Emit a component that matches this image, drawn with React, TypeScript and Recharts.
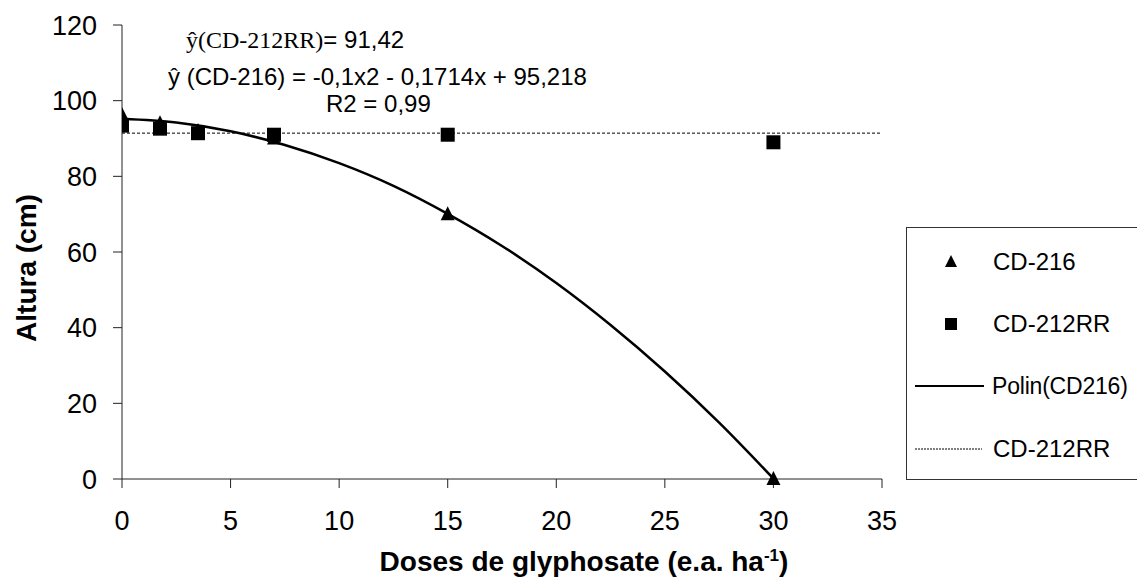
import React from 'react';
import { ComposedChart, Line, Scatter, XAxis, YAxis, Legend } from 'recharts';

// observed points
const doses = [0, 1.75, 3.5, 7, 15, 30];
const alturaCD216 = [96.2, 94, 92, 90, 70, 0];
const alturaCD212RR = [93.4, 92.6, 91.4, 91, 91, 89];

// fitted quadratic for CD-216
const curveDoses = [0, 2.5, 5, 7.5, 10, 12.5, 15, 17.5, 20, 22.5, 25, 27.5, 30];
const curveCD216 = [95.2, 94.2, 91.9, 88.3, 83.5, 77.5, 70.1, 61.6, 51.8, 40.7, 28.4, 14.9, 0.1];

// mean line for CD-212RR
const meanDoses = [0, 35];
const meanCD212RR = [91.42, 91.42];

const xTicks = [0, 5, 10, 15, 20, 25, 30, 35];
const yTicks = [0, 20, 40, 60, 80, 100, 120];

const cd216Data = doses.map((x, i) => ({ x, y: alturaCD216[i] }));
const cd212Data = doses.map((x, i) => ({ x, y: alturaCD212RR[i] }));
const curveData = curveDoses.map((x, i) => ({ x, y: curveCD216[i] }));
const meanData = meanDoses.map((x, i) => ({ x, y: meanCD212RR[i] }));

const FONT = '"Liberation Sans", Arial, sans-serif';

const TriangleShape = (props: any) => {
  const { cx, cy } = props;
  return (
    <polygon
      points={`${cx},${cy - 8} ${cx - 7},${cy + 6} ${cx + 7},${cy + 6}`}
      fill="#000"
    />
  );
};

const SquareShape = (props: any) => {
  const { cx, cy } = props;
  return <rect x={cx - 7} y={cy - 7} width={14} height={14} fill="#000" />;
};

const LegendBox = () => {
  const rowStyle: React.CSSProperties = {
    position: 'absolute',
    left: 86,
    fontFamily: FONT,
    fontSize: 24,
    lineHeight: '24px',
    color: '#000',
    whiteSpace: 'nowrap',
  };
  return (
    <div
      style={{
        position: 'relative',
        width: 260,
        height: 253,
        border: '1.5px solid #333',
        boxSizing: 'border-box',
        background: '#fff',
      }}
    >
      <svg width={80} height={253} style={{ position: 'absolute', left: 0, top: 0 }}>
        <polygon points="44,27 38,39 50,39" fill="#000" />
        <rect x={38} y={90} width={12} height={12} fill="#000" />
        <line x1={8} y1={158} x2={77} y2={158} stroke="#000" strokeWidth={2} />
        <line x1={8} y1={221} x2={75} y2={221} stroke="#000" strokeWidth={1} strokeDasharray="2 1" />
      </svg>
      <div style={{ ...rowStyle, top: 22 }}>CD-216</div>
      <div style={{ ...rowStyle, top: 84 }}>CD-212RR</div>
      <div style={{ ...rowStyle, top: 146, left: 85, fontSize: 23, letterSpacing: -0.2 }}>Polin(CD216)</div>
      <div style={{ ...rowStyle, top: 209 }}>CD-212RR</div>
    </div>
  );
};

const abs = (left: number, top: number, extra?: React.CSSProperties): React.CSSProperties => ({
  position: 'absolute',
  left,
  top,
  fontFamily: FONT,
  fontSize: 24,
  lineHeight: '24px',
  color: '#000',
  whiteSpace: 'nowrap',
  ...extra,
});

export default function App() {
  return (
    <div style={{ position: 'absolute', left: 0, top: 0, width: 1137, height: 577, background: '#fff', overflow: 'hidden' }}>
      <ComposedChart
        width={1137}
        height={577}
        margin={{ top: 25, right: 255, bottom: 0, left: 0 }}
      >
        <XAxis
          type="number"
          dataKey="x"
          domain={[0, 35]}
          ticks={xTicks}
          allowDataOverflow
          height={98}
          tickSize={9}
          tickMargin={23}
          stroke="#222"
          tick={{ fill: '#000', fontSize: 27, fontFamily: FONT }}
        />
        <YAxis
          type="number"
          dataKey="y"
          domain={[0, 120]}
          ticks={yTicks}
          width={122}
          tickSize={9}
          tickMargin={16}
          stroke="#222"
          tick={{ fill: '#000', fontSize: 27, fontFamily: FONT }}
        />
        <Line
          data={meanData}
          dataKey="y"
          type="linear"
          stroke="#000"
          strokeWidth={1}
          strokeDasharray="3 2"
          dot={false}
          isAnimationActive={false}
        />
        <Line
          data={curveData}
          dataKey="y"
          type="monotone"
          stroke="#000"
          strokeWidth={2.5}
          dot={false}
          isAnimationActive={false}
        />
        <Scatter data={cd216Data} dataKey="y" shape={TriangleShape} isAnimationActive={false} />
        <Scatter data={cd212Data} dataKey="y" shape={SquareShape} isAnimationActive={false} />
        <Legend
          layout="horizontal"
          align="center"
          verticalAlign="middle"
          content={() => <LegendBox />}
          wrapperStyle={{ position: 'absolute', left: 906, top: 227, width: 260, height: 253 }}
        />
      </ComposedChart>

      {/* regression equations */}
      <div style={abs(186, 28)}>
        <span style={{ fontFamily: '"Liberation Serif", "Times New Roman", serif' }}>ŷ(CD-212RR)</span>= 91,42
      </div>
      <div style={abs(168, 65)}>ŷ (CD-216) = -0,1x2 - 0,1714x + 95,218</div>
      <div style={abs(326, 92)}>R2 = 0,99</div>

      {/* axis titles */}
      <div style={abs(584, 548, { transform: 'translateX(-50%)', fontWeight: 'bold', fontSize: 28, lineHeight: '28px' })}>
        Doses de glyphosate (e.a. ha<sup style={{ fontSize: 17, lineHeight: 0 }}>-1</sup>)
      </div>
      <div
        style={abs(27, 268, {
          transform: 'translate(-50%, -50%) rotate(-90deg)',
          fontWeight: 'bold',
          fontSize: 28,
          lineHeight: '28px',
        })}
      >
        Altura (cm)
      </div>
    </div>
  );
}
